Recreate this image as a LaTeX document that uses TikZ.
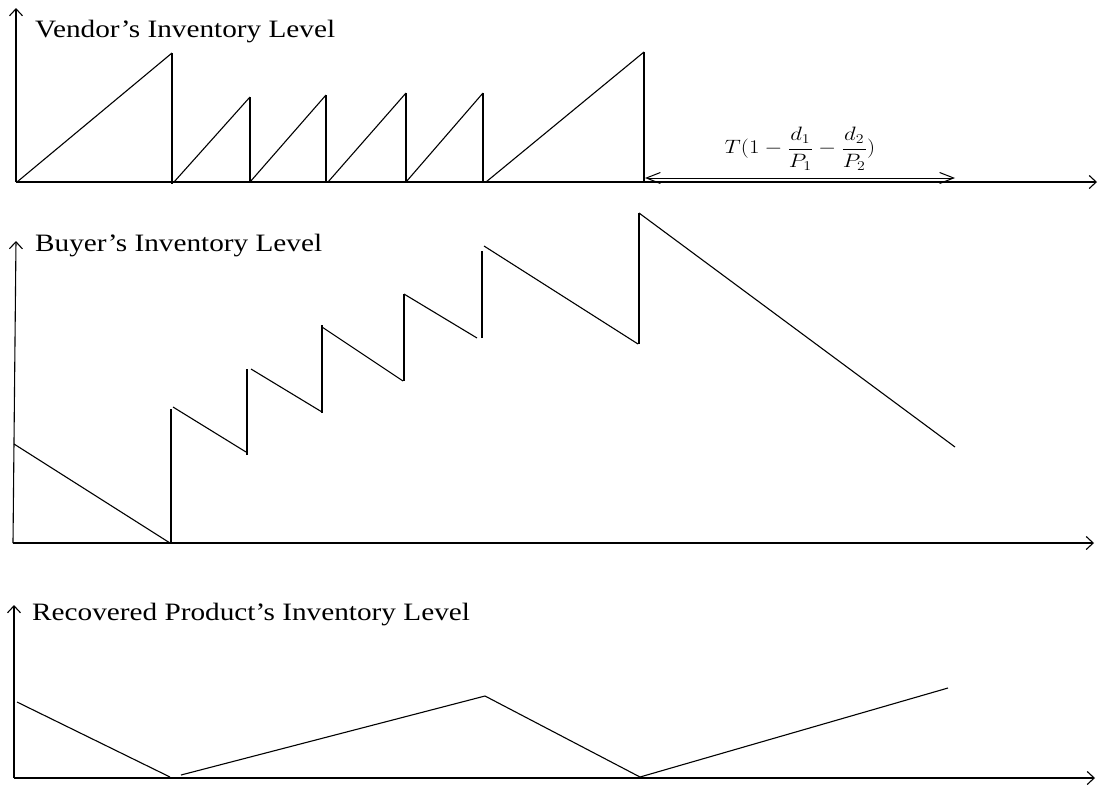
\documentclass[tikz,border=0pt]{standalone}
\usepackage[no-math]{fontspec}
\setmainfont{Liberation Serif}
\newfontfamily\lblfont[FakeStretch=1.17]{Liberation Serif}
\usetikzlibrary{arrows.meta}

\begin{document}
\begin{tikzpicture}[x=1pt, y=-1pt,
    axis/.style={line width=1.1pt, -{Straight Barb[length=7pt,width=13pt]}},
    level/.style={line width=1.1pt},
    refill/.style={line width=2.4pt},
    title/.style={font=\lblfont\fontsize{25}{28}\selectfont, anchor=base west, inner sep=0pt}]
  \useasboundingbox (0,0) rectangle (1102,785);

  % Vendor
  \coordinate (vo) at (16,182);
  \draw[axis] (vo) -- (16,8);
  \draw[axis] (vo) -- (1097,182);
  \node[title] (vlab) at (35,37) {Vendor’s Inventory Level};
  \draw[level] (17,182) -- (172,53);
  \draw[refill] (172,53) -- (172,184);
  \foreach \xa/\xb/\yb in {174/250/97, 250/326/95, 328/406/93, 406/483/93, 486/644/52}{
    \draw[level] (\xa,182) -- (\xb,\yb);
    \draw[refill] (\xb,\yb) -- (\xb,182);
  }
  \coordinate (ts) at (645,178);
  \coordinate (te) at (955,178);
  \draw[line width=1pt, {Straight Barb[length=14pt,width=11pt]}-{Straight Barb[length=14pt,width=11pt]}]
    (ts) -- node[above=4pt, font=\fontsize{18}{20}\selectfont] (tlab)
    {\scalebox{1.32}[1.12]{$\displaystyle T(1-\frac{d_1}{P_1}-\frac{d_2}{P_2})$}} (te);

  % Buyer
  \coordinate (bo) at (13,543);
  \draw[axis] (bo) -- (16,241);
  \draw[axis] (bo) -- (1094,543);
  \node[title] (blab) at (35,251) {Buyer’s Inventory Level};
  \draw[level] (14,444) -- (170,543);
  \draw[refill] (171,543) -- (171,409);
  \draw[level] (173,407) -- (246,452);
  \draw[refill] (247,455) -- (247,369);
  \draw[level] (251,369) -- (322,412);
  \draw[refill] (322,413) -- (322,325);
  \draw[level] (322,327) -- (403,381);
  \draw[refill] (404,381) -- (404,294);
  \draw[level] (404,294) -- (477,338);
  \draw[refill] (482,338) -- (482,251);
  \draw[level] (484,246) -- (638,344);
  \draw[refill] (639,344) -- (639,213);
  \draw[level] (639,213) -- (955,447);

  % Recovered product
  \coordinate (ro) at (14,778);
  \draw[axis] (ro) -- (14,605);
  \draw[axis] (ro) -- (1095,778);
  \node[title] (rlab) at (32,620) {Recovered Product’s Inventory Level};
  \draw[level] (17,702) -- (170,777);
  \draw[level] (181,775) -- (485,696) -- (640,777) -- (948,688);
\end{tikzpicture}
\end{document}
